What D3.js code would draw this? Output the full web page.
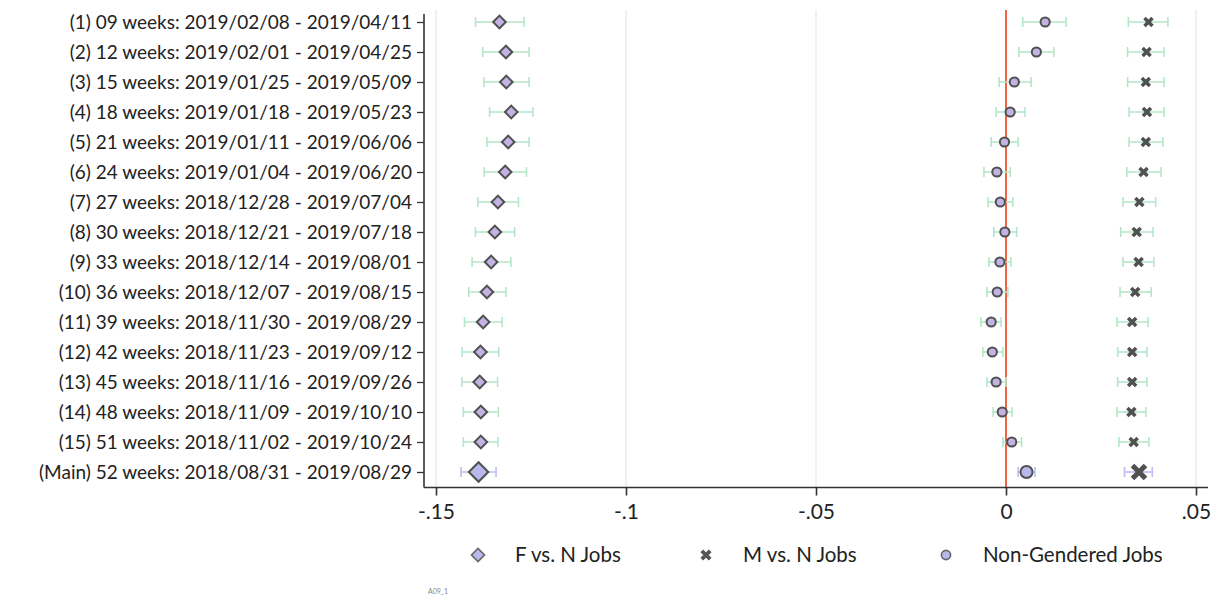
<!DOCTYPE html>
<html lang="en">
<head>
  <meta charset="UTF-8">
  <title>coef plot</title>
  <script src="https://cdn.jsdelivr.net/npm/d3@7"></script>
  <style>
    body { margin: 0; background: #fff; }
  </style>
</head>
<body>
<script>
  // row labels, top to bottom
  const labels = [
    '(1) 09 weeks: 2019/02/08 - 2019/04/11',
    '(2) 12 weeks: 2019/02/01 - 2019/04/25',
    '(3) 15 weeks: 2019/01/25 - 2019/05/09',
    '(4) 18 weeks: 2019/01/18 - 2019/05/23',
    '(5) 21 weeks: 2019/01/11 - 2019/06/06',
    '(6) 24 weeks: 2019/01/04 - 2019/06/20',
    '(7) 27 weeks: 2018/12/28 - 2019/07/04',
    '(8) 30 weeks: 2018/12/21 - 2019/07/18',
    '(9) 33 weeks: 2018/12/14 - 2019/08/01',
    '(10) 36 weeks: 2018/12/07 - 2019/08/15',
    '(11) 39 weeks: 2018/11/30 - 2019/08/29',
    '(12) 42 weeks: 2018/11/23 - 2019/09/12',
    '(13) 45 weeks: 2018/11/16 - 2019/09/26',
    '(14) 48 weeks: 2018/11/09 - 2019/10/10',
    '(15) 51 weeks: 2018/11/02 - 2019/10/24',
    '(Main) 52 weeks: 2018/08/31 - 2019/08/29'
  ]

  // F vs. N Jobs
  const fEst = [-0.1333, -0.1316, -0.1315, -0.1302, -0.1310, -0.1318, -0.1337, -0.1345, -0.1355, -0.1366, -0.1376, -0.1383, -0.1385, -0.1382, -0.1382, -0.1388]
  const fLo  = [-0.1396, -0.1377, -0.1374, -0.1359, -0.1366, -0.1373, -0.1390, -0.1396, -0.1405, -0.1414, -0.1425, -0.1431, -0.1432, -0.1428, -0.1428, -0.1434]
  const fHi  = [-0.1268, -0.1255, -0.1255, -0.1245, -0.1255, -0.1262, -0.1283, -0.1293, -0.1303, -0.1316, -0.1326, -0.1335, -0.1338, -0.1336, -0.1337, -0.1342]

  // M vs. N Jobs
  const mEst = [0.0375, 0.0370, 0.0368, 0.0371, 0.0368, 0.0362, 0.0351, 0.0344, 0.0349, 0.0340, 0.0332, 0.0332, 0.0332, 0.0330, 0.0336, 0.0350]
  const mLo  = [0.0322, 0.0320, 0.0320, 0.0324, 0.0324, 0.0318, 0.0308, 0.0302, 0.0308, 0.0300, 0.0292, 0.0294, 0.0294, 0.0292, 0.0297, 0.0312]
  const mHi  = [0.0426, 0.0416, 0.0416, 0.0416, 0.0413, 0.0408, 0.0394, 0.0387, 0.0389, 0.0382, 0.0374, 0.0371, 0.0371, 0.0368, 0.0376, 0.0385]

  // Non-Gendered Jobs
  const nEst = [0.0103, 0.0080, 0.0022, 0.0011, -0.0004, -0.0024, -0.0015, -0.0003, -0.0016, -0.0023, -0.0039, -0.0036, -0.0026, -0.0010, 0.0015, 0.0054]
  const nLo  = [0.0044, 0.0034, -0.0018, -0.0026, -0.0039, -0.0058, -0.0047, -0.0032, -0.0045, -0.0050, -0.0066, -0.0061, -0.0050, -0.0034, -0.0008, 0.0032]
  const nHi  = [0.0158, 0.0126, 0.0066, 0.0050, 0.0032, 0.0011, 0.0018, 0.0028, 0.0013, 0.0005, -0.0013, -0.0008, 0.0000, 0.0016, 0.0041, 0.0076]

  const xTicks = [-0.15, -0.1, -0.05, 0, 0.05]
  const xTickLabels = ['-.15', '-.1', '-.05', '0', '.05']
  const legendNames = ['F vs. N Jobs', 'M vs. N Jobs', 'Non-Gendered Jobs']

  const width = 1214
  const height = 603
  const margin = { top: 10, right: 6, bottom: 116, left: 424 }

  const ciColor = '#b4e6c8'
  const ciMainColor = '#bcbcee'
  const fillColor = '#c3b3e3'
  const fillMain = '#b8b8ea'
  const markStroke = '#505050'
  const gridColor = '#e4eef3'
  const font = 'Lato, "Open Sans", sans-serif'

  const svg = d3.select('body').append('svg')
    .attr('width', width).attr('height', height)
    .style('font-family', font)

  const x = d3.scaleLinear()
    .domain([-0.15, 0.05])
    .range([436, 1196])

  const y = d3.scalePoint()
    .domain(labels)
    .range([22, 472])

  const plotBottom = height - margin.bottom + 0.5

  // gridlines
  svg.append('g')
    .selectAll('line')
    .data(xTicks.filter(d => d !== 0))
    .join('line')
    .attr('x1', d => x(d)).attr('x2', d => x(d))
    .attr('y1', margin.top).attr('y2', plotBottom)
    .attr('stroke', gridColor).attr('stroke-width', 1.5)

  // zero line
  svg.append('line')
    .attr('x1', x(0)).attr('x2', x(0))
    .attr('y1', margin.top).attr('y2', plotBottom)
    .attr('stroke', '#ee6445').attr('stroke-width', 2)

  // y axis
  const yAxis = g => g
    .attr('transform', `translate(${margin.left},0)`)
    .call(d3.axisLeft(y).tickSize(7).tickPadding(5))
    .call(g => g.select('.domain').attr('d', `M0,${margin.top + 4}V${plotBottom}`).attr('stroke', '#333').attr('stroke-width', 1.6))
    .call(g => g.selectAll('.tick line').attr('stroke', '#333').attr('stroke-width', 1.3))
    .call(g => g.selectAll('.tick text')
      .style('font-family', font)
      .style('font-size', '19px')
      .attr('fill', '#222'))

  // x axis
  const xAxis = g => g
    .attr('transform', `translate(0,${plotBottom})`)
    .call(d3.axisBottom(x).tickValues(xTicks).tickSize(8).tickPadding(9)
      .tickFormat((d, i) => xTickLabels[i]))
    .call(g => g.select('.domain').attr('d', `M${margin.left},0H${width - margin.right}`).attr('stroke', '#333').attr('stroke-width', 1.6))
    .call(g => g.selectAll('.tick line').attr('stroke', '#333').attr('stroke-width', 1.6))
    .call(g => g.selectAll('.tick text')
      .style('font-family', font)
      .style('font-size', '21px')
      .attr('fill', '#222'))

  svg.append('g').call(yAxis)
  svg.append('g').call(xAxis)

  const isMain = i => i === labels.length - 1

  // confidence intervals
  function drawCI(lo, hi) {
    const g = svg.append('g').attr('stroke-width', 1.6)
    const rows = labels.map((d, i) => ({ label: d, lo: lo[i], hi: hi[i], i }))
    g.selectAll('line.bar')
      .data(rows)
      .join('line')
      .attr('class', 'bar')
      .attr('x1', d => x(d.lo)).attr('x2', d => x(d.hi))
      .attr('y1', d => y(d.label)).attr('y2', d => y(d.label))
      .attr('stroke', d => isMain(d.i) ? ciMainColor : ciColor)
    g.selectAll('line.capl')
      .data(rows)
      .join('line')
      .attr('class', 'capl')
      .attr('x1', d => x(d.lo)).attr('x2', d => x(d.lo))
      .attr('y1', d => y(d.label) - 5).attr('y2', d => y(d.label) + 5)
      .attr('stroke', d => isMain(d.i) ? ciMainColor : ciColor)
    g.selectAll('line.capr')
      .data(rows)
      .join('line')
      .attr('class', 'capr')
      .attr('x1', d => x(d.hi)).attr('x2', d => x(d.hi))
      .attr('y1', d => y(d.label) - 5).attr('y2', d => y(d.label) + 5)
      .attr('stroke', d => isMain(d.i) ? ciMainColor : ciColor)
  }
  drawCI(fLo, fHi)
  drawCI(mLo, mHi)
  drawCI(nLo, nHi)

  // F vs. N : diamonds
  svg.append('g')
    .selectAll('path')
    .data(fEst)
    .join('path')
    .attr('transform', (d, i) => `translate(${x(d)},${y(labels[i])}) rotate(45)`)
    .attr('d', (d, i) => d3.symbol(d3.symbolSquare, isMain(i) ? 190 : 80)())
    .attr('fill', (d, i) => isMain(i) ? fillMain : fillColor)
    .attr('stroke', markStroke)
    .attr('stroke-width', 2)

  // M vs. N : crosses
  const crossPath = s => `M${-s},${-s}L${s},${s}M${-s},${s}L${s},${-s}`
  svg.append('g')
    .selectAll('path')
    .data(mEst)
    .join('path')
    .attr('transform', (d, i) => `translate(${x(d)},${y(labels[i])})`)
    .attr('d', (d, i) => crossPath(isMain(i) ? 6.5 : 4))
    .attr('stroke', markStroke)
    .attr('stroke-width', (d, i) => isMain(i) ? 5 : 3.5)
    .attr('fill', 'none')

  // Non-gendered : circles
  svg.append('g')
    .selectAll('circle')
    .data(nEst)
    .join('circle')
    .attr('cx', d => x(d))
    .attr('cy', (d, i) => y(labels[i]))
    .attr('r', (d, i) => isMain(i) ? 6 : 4.6)
    .attr('fill', (d, i) => isMain(i) ? fillMain : fillColor)
    .attr('stroke', markStroke)
    .attr('stroke-width', 2)

  // legend
  const legendY = 555
  const legendX = [478, 706, 946]
  const legend = svg.append('g')
  const lg = legend.selectAll('g')
    .data(legendNames)
    .join('g')
    .attr('transform', (d, i) => `translate(${legendX[i]},${legendY})`)
  lg.filter((d, i) => i === 0).append('path')
    .attr('transform', 'rotate(45)')
    .attr('d', d3.symbol(d3.symbolSquare, 85)())
    .attr('fill', fillMain).attr('stroke', '#666').attr('stroke-width', 1.6)
  lg.filter((d, i) => i === 1).append('path')
    .attr('d', crossPath(4.2))
    .attr('stroke', '#555').attr('stroke-width', 3.8)
  lg.filter((d, i) => i === 2).append('circle')
    .attr('r', 4.6)
    .attr('fill', fillMain).attr('stroke', '#666').attr('stroke-width', 1.6)
  lg.append('text')
    .attr('x', 37).attr('y', 7)
    .style('font-size', '20.5px')
    .attr('fill', '#222')
    .text(d => d)

  // small note
  svg.append('text')
    .attr('x', 428).attr('y', 594)
    .style('font-size', '7px')
    .attr('fill', '#888')
    .text('A09_1')
</script>
</body>
</html>
